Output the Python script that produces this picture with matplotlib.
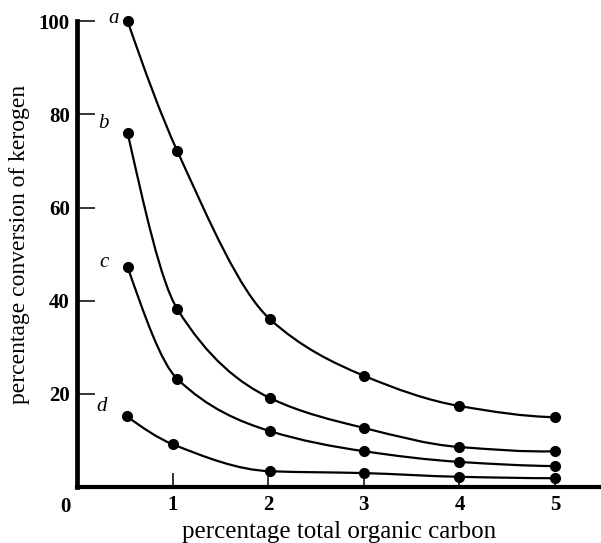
import numpy as np
import matplotlib
matplotlib.use('Agg')
import matplotlib.pyplot as plt
from matplotlib.path import Path
from matplotlib.patches import PathPatch

plt.rcParams['font.family'] = ['Liberation Serif', 'DejaVu Serif']

# percentage total organic carbon
toc   = [0.53, 1.05, 2.02, 3.0, 4.0, 5.0]
toc_d = [0.52, 1.0, 2.02, 3.0, 4.0, 5.0]

# percentage conversion of kerogen, curves a-d
conv_a = [100.0, 72.1, 36.0, 23.9, 17.4, 15.0]
conv_b = [76.0, 38.2, 19.1, 12.7, 8.6, 7.7]
conv_c = [47.2, 23.2, 12.0, 7.7, 5.4, 4.5]
conv_d = [15.2, 9.2, 3.4, 3.0, 2.2, 1.9]

curve_names = ['a', 'b', 'c', 'd']
label_pos = [(0.38, 100.6), (0.28, 78.0), (0.28, 48.3), (0.26, 17.2)]

x_ticks = [1, 2, 3, 4, 5]
y_ticks = [20, 40, 60, 80, 100]


def smooth_path(x, y):
    # pchip-style tangents, handed to matplotlib as bezier segments
    x = np.asarray(x, float)
    y = np.asarray(y, float)
    n = len(x)
    h = np.diff(x)
    d = np.diff(y) / h
    m = np.zeros(n)
    for k in range(1, n - 1):
        if d[k - 1] * d[k] > 0:
            w1 = 2 * h[k] + h[k - 1]
            w2 = h[k] + 2 * h[k - 1]
            m[k] = (w1 + w2) / (w1 / d[k - 1] + w2 / d[k])
    m[0] = ((2 * h[0] + h[1]) * d[0] - h[0] * d[1]) / (h[0] + h[1])
    m[-1] = ((2 * h[-1] + h[-2]) * d[-1] - h[-1] * d[-2]) / (h[-1] + h[-2])
    verts = [(x[0], y[0])]
    codes = [Path.MOVETO]
    for i in range(n - 1):
        verts += [(x[i] + h[i] / 3, y[i] + m[i] * h[i] / 3),
                  (x[i + 1] - h[i] / 3, y[i + 1] - m[i + 1] * h[i] / 3),
                  (x[i + 1], y[i + 1])]
        codes += [Path.CURVE4] * 3
    return Path(verts, codes)


fig = plt.figure(figsize=(6.01, 5.43), dpi=100)
ax = fig.add_axes([0.128, 0.103, 0.872, 0.858])

for xs, ys in [(toc, conv_a), (toc, conv_b), (toc, conv_c), (toc_d, conv_d)]:
    ax.add_patch(PathPatch(smooth_path(xs, ys), facecolor='none',
                           edgecolor='black', lw=1.6, clip_on=False))
    ax.plot(xs, ys, 'o', color='black', ms=7, clip_on=False, zorder=3)

for name, (lx, ly) in zip(curve_names, label_pos):
    ax.text(lx, ly, name, style='italic', fontsize=15, ha='center', va='center')

ax.set_xlim(0, 5.48)
ax.set_ylim(0, 100)

for s in ['top', 'right']:
    ax.spines[s].set_visible(False)
ax.spines['left'].set_linewidth(3.4)
ax.spines['bottom'].set_linewidth(3)

ax.set_xticks(x_ticks)
ax.set_yticks(y_ticks)
ax.tick_params(axis='y', direction='in', length=13, width=1.1, pad=5, labelsize=15)
ax.tick_params(axis='x', direction='in', length=10, width=1.1, pad=6, labelsize=15)
for lab in ax.get_xticklabels() + ax.get_yticklabels():
    lab.set_fontweight('bold')

ax.annotate('0', xy=(0, 0), xytext=(-8, -7), textcoords='offset points',
            ha='center', va='top', fontsize=15, fontweight='bold')

ax.set_xlabel('percentage total organic carbon', fontsize=18, labelpad=4)
ax.set_ylabel('percentage conversion of kerogen', fontsize=17)
ax.yaxis.set_label_coords(-0.09, 0.52)

fig.savefig('out.png', dpi=100)
